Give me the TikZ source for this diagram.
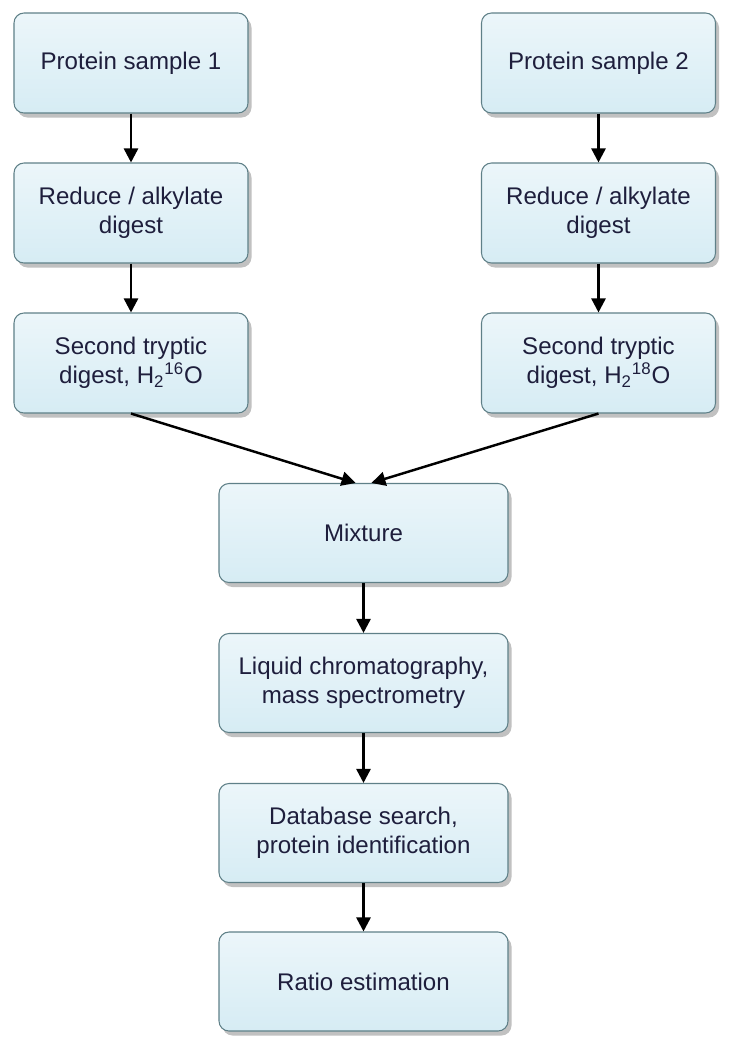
\documentclass[tikz,border=0pt]{standalone}
\usepackage{fontspec}
\setmainfont{Liberation Sans}
\usetikzlibrary{arrows.meta,shadows}

\definecolor{boxline}{RGB}{95,128,136}
\definecolor{boxtop}{RGB}{236,246,250}
\definecolor{boxbot}{RGB}{214,236,244}
\definecolor{boxtext}{RGB}{30,30,60}

\begin{document}
\begin{tikzpicture}[
    stage/.style={shape=rectangle, rounded corners=0.2cm, draw=boxline, line width=0.6pt,
        top color=boxtop, bottom color=boxbot, text=boxtext, align=center,
        font=\fontsize{13.7}{16.5}\selectfont, minimum height=2cm,
        drop shadow={shadow xshift=0.07cm, shadow yshift=-0.09cm, opacity=0.35, fill=black!70}},
    side/.style={stage, minimum width=4.68cm},
    mid/.style={stage, minimum width=5.78cm, minimum height=1.98cm},
    flow/.style={-{Triangle[length=0.28cm, width=0.28cm]}, line width=1.4pt, black}
]
    \useasboundingbox (0,0) rectangle (14.6,-21);

    \node[side] (p1) at (2.62,-1.26) {Protein sample 1};
    \node[side] (p2) at (11.97,-1.26) {Protein sample 2};
    \node[side] (r1) at (2.62,-4.26) {Reduce / alkylate\\digest};
    \node[side] (r2) at (11.97,-4.26) {Reduce / alkylate\\digest};
    \node[side] (t1) at (2.62,-7.26) {Second tryptic\\digest, H\textsubscript{2}\textsuperscript{16}O};
    \node[side] (t2) at (11.97,-7.26) {Second tryptic\\digest, H\textsubscript{2}\textsuperscript{18}O};

    \node[mid] (mix) at (7.27,-10.66) {Mixture};
    \node[mid] (lc) at (7.27,-13.66) {Liquid chromatography,\\mass spectrometry};
    \node[mid] (db) at (7.27,-16.66) {Database search,\\protein identification};
    \node[mid] (ratio) at (7.27,-19.63) {Ratio estimation};

    \path [flow] (p1) edge (r1);
    \path [flow] (r1) edge (t1);
    \path [flow] (p2) edge (r2);
    \path [flow] (r2) edge (t2);
    \path [flow] (t1.south) edge (mix.99);
    \path [flow] (t2.south) edge (mix.81);
    \path [flow] (mix) edge (lc);
    \path [flow] (lc) edge (db);
    \path [flow] (db) edge (ratio);

\end{tikzpicture}
\end{document}
